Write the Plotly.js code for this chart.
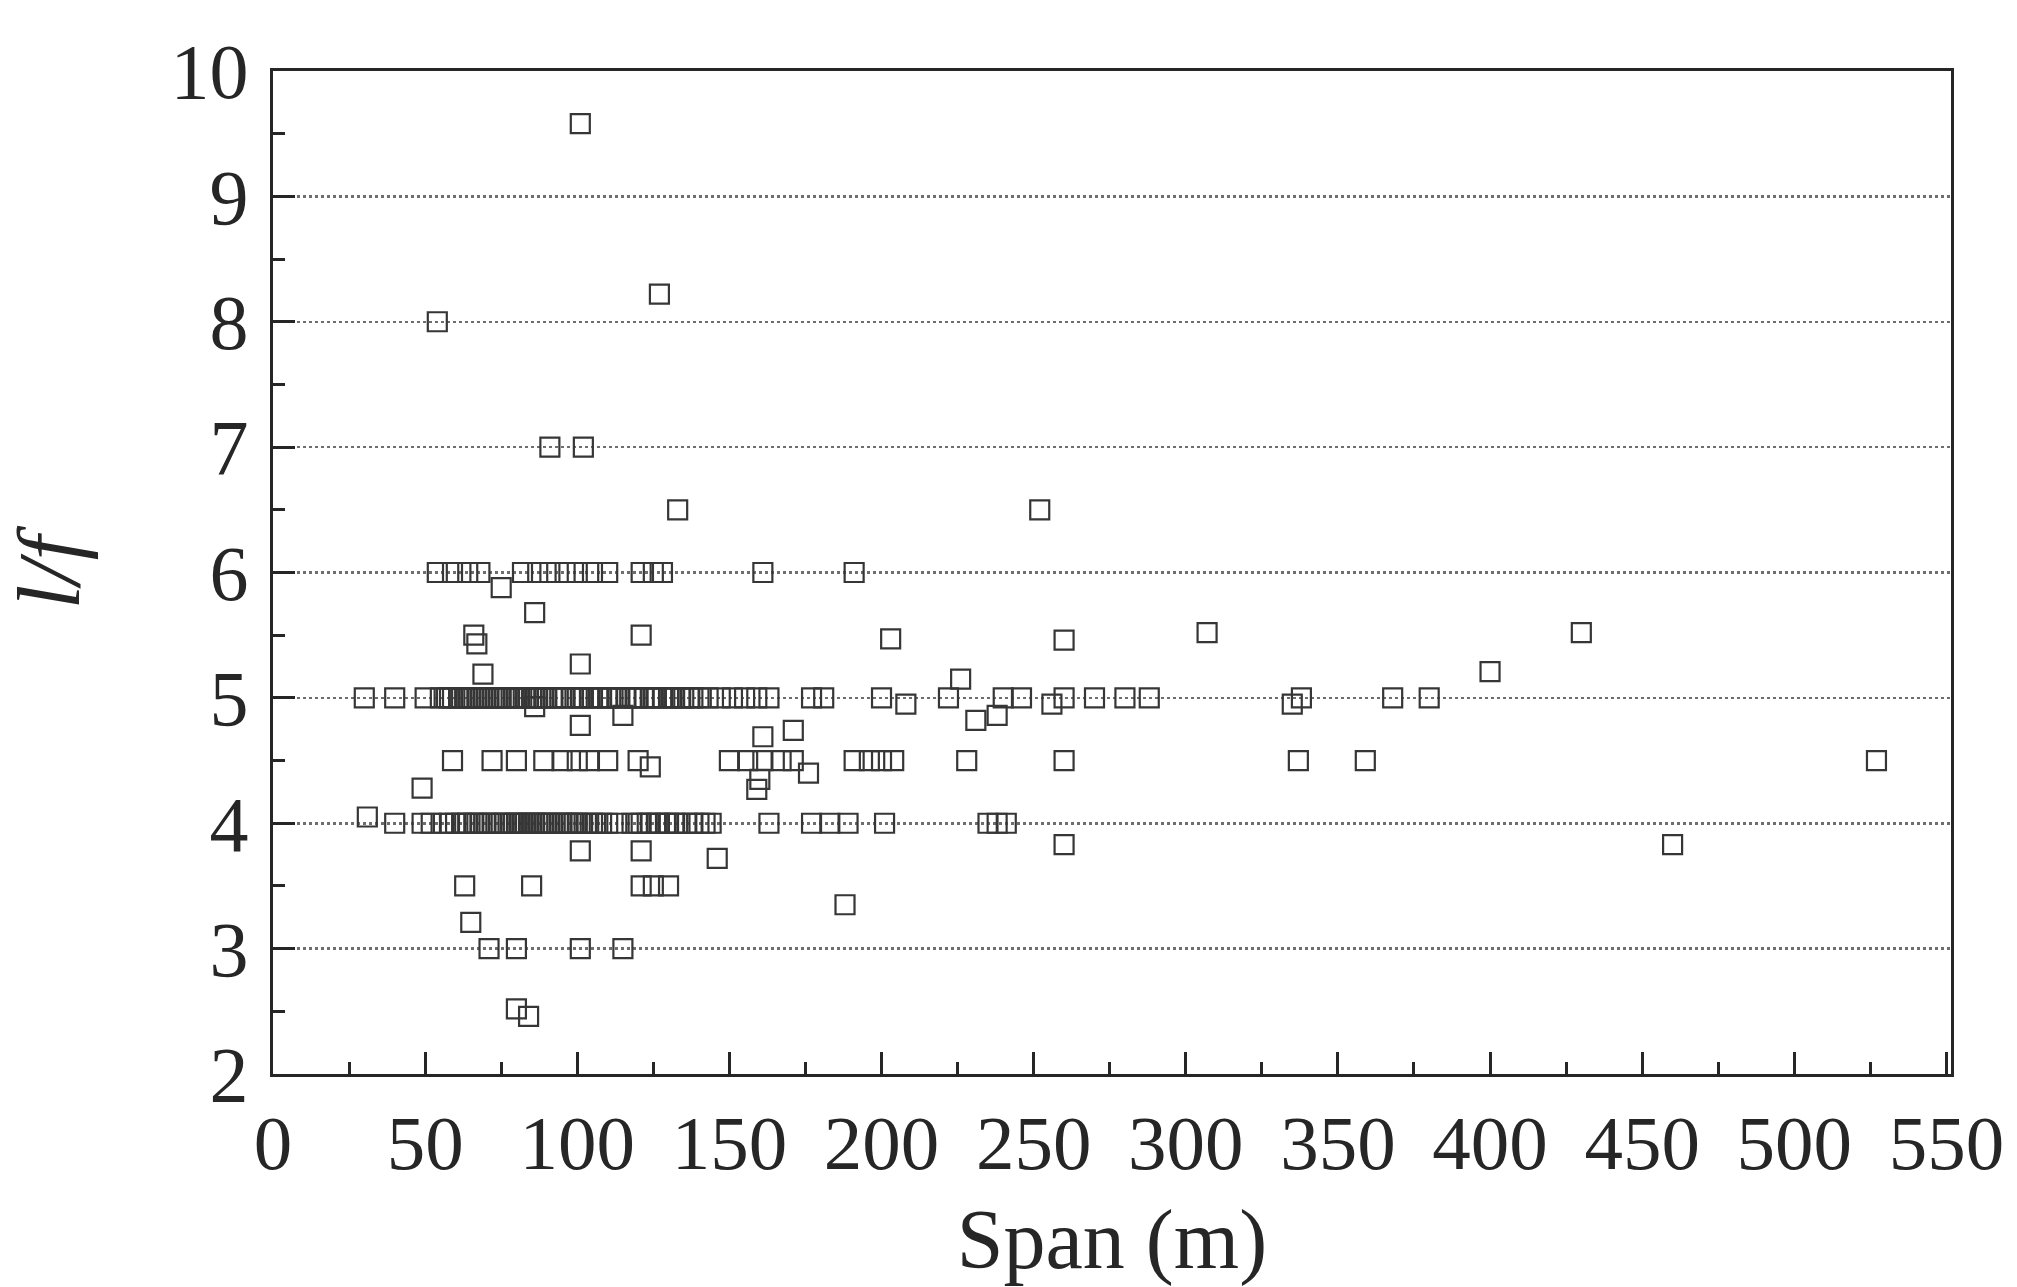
<!DOCTYPE html>
<html>
<head>
<meta charset="utf-8">
<script src="https://cdn.plot.ly/plotly-3.0.1.min.js"></script>
<style>
  html, body { margin: 0; padding: 0; background: #ffffff; }
  #chart { width: 2017px; height: 1287px; }
</style>
</head>
<body>
<div id="chart"></div>
<script>
// Span (m) and rise-to-span ratio l/f
const spanHigh  = [101, 127, 54, 91, 102, 133, 252];
const ratioHigh = [9.58, 8.22, 8.0, 7.0, 7.0, 6.5, 6.5];

const spanRow6  = [54, 59, 64, 68, 82, 87, 91, 96, 100, 105, 110, 121, 125, 128, 161, 191];
const ratioRow6 = [6, 6, 6, 6, 6, 6, 6, 6, 6, 6, 6, 6, 6, 6, 6, 6];

const spanUpper  = [75, 86, 66, 67, 121, 203, 260, 307, 430, 400, 101, 69, 226];
const ratioUpper = [5.88, 5.68, 5.5, 5.43, 5.5, 5.47, 5.46, 5.52, 5.52, 5.21, 5.27, 5.19, 5.15];

const spanRow5 = [30, 40, 50, 55, 57, 58, 59, 61, 62, 63, 64, 65, 66, 67, 68, 69, 70, 71, 72, 73,
                  74, 75, 76, 77, 79, 80, 81, 83, 84, 85, 86, 87, 88, 89, 90, 92, 93, 95, 96, 98,
                  100, 101, 102, 104, 105, 107, 108, 110, 111, 113, 114, 116, 118, 119, 120, 122,
                  124, 125, 126, 128, 130, 131, 132, 134, 135, 137, 138, 140, 143, 147, 151, 155,
                  159, 163, 177, 181, 200, 222, 240, 246, 260, 270, 280, 288, 338, 368, 380];
const ratioRow5 = [5, 5, 5, 5, 5, 5, 5, 5, 5, 5, 5, 5, 5, 5, 5, 5, 5, 5, 5, 5,
                   5, 5, 5, 5, 5, 5, 5, 5, 5, 5, 5, 5, 5, 5, 5, 5, 5, 5, 5, 5,
                   5, 5, 5, 5, 5, 5, 5, 5, 5, 5, 5, 5, 5, 5, 5, 5,
                   5, 5, 5, 5, 5, 5, 5, 5, 5, 5, 5, 5, 5, 5, 5, 5,
                   5, 5, 5, 5, 5, 5, 5, 5, 5, 5, 5, 5, 5, 5, 5];

const spanMid  = [86, 208, 256, 335, 101, 115, 231, 238, 161, 171, 124, 176, 160, 159, 49];
const ratioMid = [4.93, 4.95, 4.95, 4.95, 4.78, 4.86, 4.82, 4.86, 4.69, 4.74, 4.45, 4.4, 4.35, 4.27, 4.28];

const spanRow45  = [59, 72, 80, 89, 95, 100, 104, 110, 120, 150, 156, 161, 167, 171, 191, 196,
                    200, 204, 228, 260, 337, 359, 527];
const ratioRow45 = [4.5, 4.5, 4.5, 4.5, 4.5, 4.5, 4.5, 4.5, 4.5, 4.5, 4.5, 4.5, 4.5, 4.5, 4.5, 4.5,
                    4.5, 4.5, 4.5, 4.5, 4.5, 4.5, 4.5];

const spanRow4 = [31, 40, 49, 52, 56, 58, 60, 62, 63, 64, 66, 67, 68, 70, 71, 72, 74, 75, 76, 78,
                  79, 80, 81, 82, 83, 84, 85, 86, 87, 88, 89, 90, 91, 92, 94, 95, 96, 97, 98, 99,
                  100, 101, 103, 105, 106, 108, 110, 113, 118, 120, 121, 123, 124, 126, 127, 129,
                  130, 132, 133, 136, 138, 140, 142, 144, 163, 177, 183, 189, 201, 235, 238, 241];
const ratioRow4 = [4.05, 4, 4, 4, 4, 4, 4, 4, 4, 4, 4, 4, 4, 4, 4, 4, 4, 4, 4, 4,
                   4, 4, 4, 4, 4, 4, 4, 4, 4, 4, 4, 4, 4, 4, 4, 4, 4, 4, 4, 4,
                   4, 4, 4, 4, 4, 4, 4, 4, 4, 4, 4, 4, 4, 4, 4, 4,
                   4, 4, 4, 4, 4, 4, 4, 4, 4, 4, 4, 4, 4, 4, 4, 4];

const spanLow  = [101, 121, 260, 460, 146, 63, 85, 121, 125, 130, 188, 65, 71, 80, 101, 115, 80, 84];
const ratioLow = [3.78, 3.78, 3.83, 3.83, 3.72, 3.5, 3.5, 3.5, 3.5, 3.5, 3.35, 3.21, 3, 3, 3, 3, 2.52, 2.46];

const xTickVals = [0, 50, 100, 150, 200, 250, 300, 350, 400, 450, 500, 550];
const yTickVals = [2, 3, 4, 5, 6, 7, 8, 9, 10];
const xTitle = 'Span (m)';
const yTitle = '<i>l/f</i>';

const span  = [].concat(spanHigh, spanRow6, spanUpper, spanRow5, spanMid, spanRow45, spanRow4, spanLow);
const ratio = [].concat(ratioHigh, ratioRow6, ratioUpper, ratioRow5, ratioMid, ratioRow45, ratioRow4, ratioLow);

const serif = 'Liberation Serif, Times New Roman, serif';
const ink = '#262626';

const trace = {
  type: 'scatter',
  mode: 'markers',
  x: span,
  y: ratio,
  marker: {
    symbol: 'square-open',
    size: 19,
    color: '#363636',
    line: { width: 2.2, color: '#363636' }
  },
  hoverinfo: 'x+y'
};

const layout = {
  width: 2017,
  height: 1287,
  paper_bgcolor: '#ffffff',
  plot_bgcolor: '#ffffff',
  margin: { l: 273, r: 66, t: 71, b: 213 },
  showlegend: false,
  font: { family: serif, color: ink, size: 76 },
  xaxis: {
    range: [0, 551.5],
    tickmode: 'array',
    tickvals: xTickVals,
    ticktext: xTickVals.map(String),
    ticks: 'inside',
    ticklen: 22,
    tickwidth: 3,
    tickcolor: ink,
    showline: true,
    linewidth: 3,
    linecolor: ink,
    mirror: true,
    showgrid: false,
    zeroline: false,
    tickfont: { family: serif, size: 77, color: ink },
    minor: { tickvals: [25, 75, 125, 175, 225, 275, 325, 375, 425, 475, 525], ticks: 'inside', ticklen: 12, tickwidth: 3, tickcolor: ink, showgrid: false },
    title: { text: xTitle, font: { family: serif, size: 84, color: ink }, standoff: 30 }
  },
  yaxis: {
    range: [2, 10],
    tickmode: 'array',
    tickvals: yTickVals,
    ticktext: yTickVals.map(String),
    ticks: 'inside',
    ticklen: 22,
    tickwidth: 3,
    tickcolor: ink,
    showline: true,
    linewidth: 3,
    linecolor: ink,
    mirror: true,
    showgrid: true,
    gridcolor: '#6e6e6e',
    gridwidth: 2.5,
    griddash: 'dot',
    zeroline: false,
    ticklabelstandoff: 6,
    tickfont: { family: serif, size: 78, color: ink },
    minor: { tickvals: [2.5, 3.5, 4.5, 5.5, 6.5, 7.5, 8.5, 9.5], ticks: 'inside', ticklen: 12, tickwidth: 3, tickcolor: ink, showgrid: false },
    title: { text: yTitle, font: { family: serif, size: 88, color: ink }, standoff: 62 }
  }
};

Plotly.newPlot('chart', [trace], layout, { displayModeBar: false, staticPlot: true });
</script>
</body>
</html>
